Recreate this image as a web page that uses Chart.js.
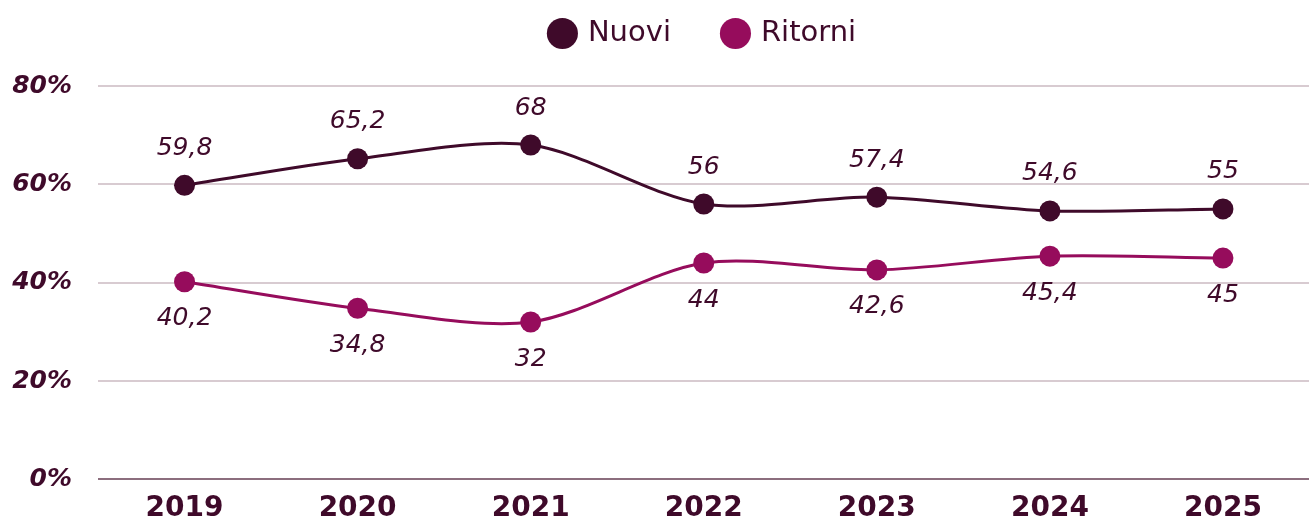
<!DOCTYPE html>
<html>
<head>
<meta charset="utf-8">
<script src="https://cdn.jsdelivr.net/npm/chart.js@4"></script>
<style>
  html, body { margin: 0; padding: 0; background: #fff; overflow: hidden; }
  #wrap { width: 1320px; height: 539px; }
</style>
</head>
<body>
<div id="wrap"><canvas id="chart" width="1320" height="539"></canvas></div>
<script>
var years = ['2019', '2020', '2021', '2022', '2023', '2024', '2025'];
var nuovi = [59.8, 65.2, 68, 56, 57.4, 54.6, 55];
var ritorni = [40.2, 34.8, 32, 44, 42.6, 45.4, 45];
var yTicks = [0, 20, 40, 60, 80];

var dark = '#3f0a2a';
var magenta = '#960c5c';
var font = '"DejaVu Sans", sans-serif';

// draws the value next to each point, above for Nuovi, below for Ritorni
var valueLabels = {
  id: 'valueLabels',
  afterDatasetsDraw: function (chart) {
    var ctx = chart.ctx;
    ctx.save();
    ctx.font = 'italic 25px ' + font;
    ctx.fillStyle = dark;
    ctx.textAlign = 'center';
    ctx.textBaseline = 'middle';
    chart.data.datasets.forEach(function (ds, i) {
      var meta = chart.getDatasetMeta(i);
      meta.data.forEach(function (pt, j) {
        var txt = String(ds.data[j]).replace('.', ',');
        var dy = i == 0 ? -37 : 37;
        ctx.fillText(txt, pt.x, pt.y + dy);
      });
    });
    ctx.restore();
  }
};

// a bit more room under the legend
var legendGap = {
  id: 'legendGap',
  beforeInit: function (chart) {
    var fit = chart.legend.fit;
    chart.legend.fit = function () {
      fit.bind(chart.legend)();
      this.height += 28;
    };
  }
};

new Chart(document.getElementById('chart'), {
  type: 'line',
  data: {
    labels: years,
    datasets: [{
      label: 'Nuovi',
      data: nuovi,
      borderColor: dark,
      backgroundColor: dark,
      borderWidth: 3,
      tension: 0.3,
      pointRadius: 10.5,
      pointHoverRadius: 10.5,
      pointBorderWidth: 0
    }, {
      label: 'Ritorni',
      data: ritorni,
      borderColor: magenta,
      backgroundColor: magenta,
      borderWidth: 3,
      tension: 0.3,
      pointRadius: 10.5,
      pointHoverRadius: 10.5,
      pointBorderWidth: 0
    }]
  },
  options: {
    responsive: false,
    animation: false,
    layout: { padding: { left: 12, right: 0, top: 9, bottom: 0 } },
    plugins: {
      tooltip: { enabled: false },
      legend: {
        position: 'top',
        fullSize: false,
        labels: {
          usePointStyle: true,
          pointStyle: 'circle',
          boxWidth: 22,
          boxHeight: 22,
          padding: 10,
          color: dark,
          font: { family: font, size: 29 },
          generateLabels: function (chart) {
            var items = Chart.defaults.plugins.legend.labels.generateLabels(chart);
            items[0].text = items[0].text + '\u2002\u2002\u2002';
            return items;
          }
        }
      }
    },
    scales: {
      x: {
        offset: true,
        grid: { display: false, drawTicks: false },
        border: { display: false },
        ticks: {
          color: dark,
          padding: 13,
          font: { family: font, size: 28, weight: 'bold' }
        }
      },
      y: {
        min: 0,
        max: 80,
        afterBuildTicks: function (axis) {
          axis.ticks = yTicks.map(function (v) { return { value: v }; });
        },
        afterFit: function (axis) {
          axis.width = 86;
        },
        grid: {
          color: function (c) { return c.tick && c.tick.value === 0 ? '#8c6e7e' : '#d8cbd1'; },
          lineWidth: 2,
          drawTicks: false
        },
        border: { display: false },
        ticks: {
          color: dark,
          padding: 26,
          font: { family: font, size: 25, weight: 'bold', style: 'italic' },
          callback: function (v) { return v + '%'; }
        }
      }
    }
  },
  plugins: [valueLabels, legendGap]
});
</script>
</body>
</html>
